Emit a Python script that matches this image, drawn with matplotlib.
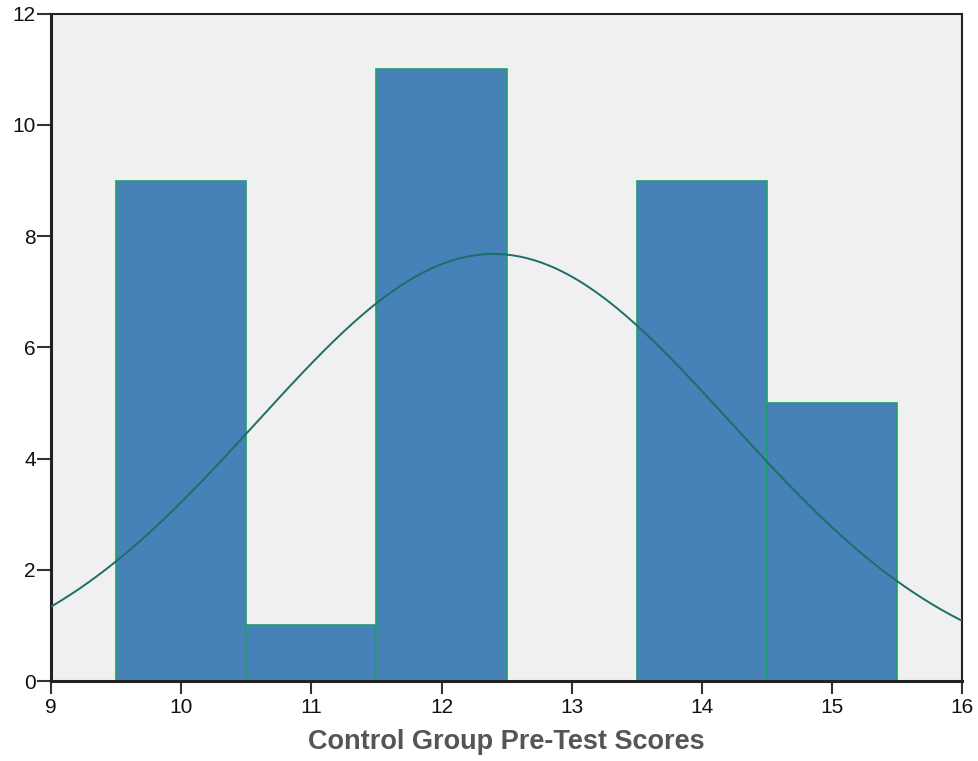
import numpy as np
import matplotlib.pyplot as plt

plt.rcParams['font.family'] = ['Liberation Sans', 'DejaVu Sans']

# histogram data (bin centres and counts)
scores = [10, 11, 12, 13, 14, 15]
counts = [9, 1, 11, 0, 9, 5]
x_ticks = [9, 10, 11, 12, 13, 14, 15, 16]
y_ticks = [0, 2, 4, 6, 8, 10, 12]
x_label = 'Control Group Pre-Test Scores'

fig = plt.figure(figsize=(9.79, 7.61), dpi=100)
ax = fig.add_axes([0.052, 0.105, 0.931, 0.877])
ax.set_facecolor('#F0F0F0')

ax.bar(scores, counts, width=1.0, color='#4682B8', edgecolor='#1F9E6C', linewidth=1.2, zorder=2)

# fitted normal curve from the binned data
vals = np.repeat(scores, counts)
n = len(vals)
mu = vals.mean()
sd = vals.std(ddof=1)
xs = np.linspace(9, 16, 400)
ys = n * 1.0 / (sd * np.sqrt(2 * np.pi)) * np.exp(-0.5 * ((xs - mu) / sd) ** 2)
ax.plot(xs, ys, color='#1C6E68', linewidth=1.4, zorder=3)

ax.set_xlim(9, 16)
ax.set_ylim(0, 12)
ax.set_xticks(x_ticks)
ax.set_yticks(y_ticks)
ax.tick_params(direction='out', width=1.5, color='#333333', labelsize=15, labelcolor='#111111')
ax.tick_params(axis='y', length=10, pad=1)
ax.tick_params(axis='x', length=9, pad=3)
for s in ax.spines.values():
    s.set_color('#222222')
    s.set_linewidth(1.5)
ax.spines['bottom'].set_linewidth(2.2)
ax.spines['left'].set_linewidth(2.2)

ax.set_xlabel(x_label, fontsize=19.5, fontweight='bold', color='#555555', labelpad=9)

fig.savefig('out.png', dpi=100)
